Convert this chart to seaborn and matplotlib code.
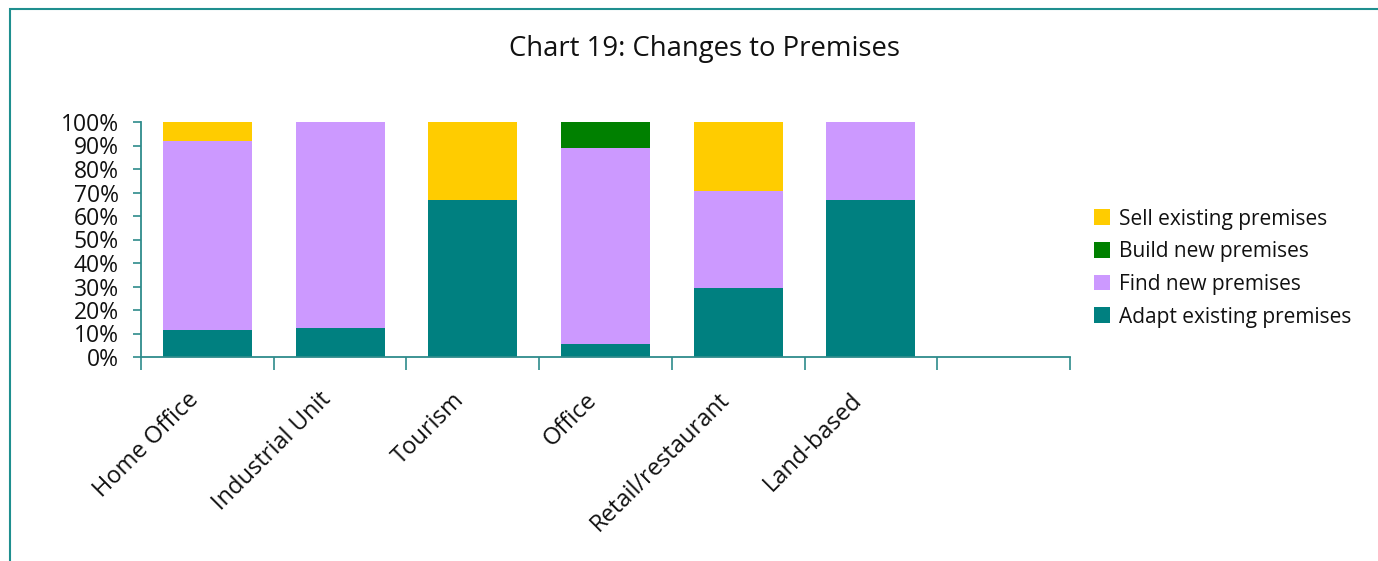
import numpy as np
import pandas as pd
import matplotlib
matplotlib.use("Agg")
import matplotlib.pyplot as plt
import matplotlib.transforms as mtransforms
from matplotlib.patches import Patch, Rectangle
import seaborn as sns

# ---- data (percent of respondents) ----
categories = ["Home Office", "Industrial Unit", "Tourism", "Office",
              "Retail/restaurant", "Land-based"]
adapt_existing = [11.3, 12.5, 66.7, 5.6, 29.4, 66.7]
find_new = [80.6, 87.5, 0.0, 83.3, 41.2, 33.3]
build_new = [0.0, 0.0, 0.0, 11.1, 0.0, 0.0]
sell_existing = [8.1, 0.0, 33.3, 0.0, 29.4, 0.0]
series_names = ["Sell existing premises", "Build new premises",
                "Find new premises", "Adapt existing premises"]
y_ticks = [0, 10, 20, 30, 40, 50, 60, 70, 80, 90, 100]

colors = {"Sell existing premises": "#FFCC00",
          "Build new premises": "#008000",
          "Find new premises": "#CC99FF",
          "Adapt existing premises": "#008080"}
axis_col = "#2E8B8B"
text_col = "#111111"

sns.set_theme(style="white")
plt.rcParams['font.family'] = ['Open Sans', 'DejaVu Sans']

df = pd.DataFrame({"category": categories,
                   "adapt": adapt_existing,
                   "find": find_new,
                   "build": build_new,
                   "sell": sell_existing})
df["c_adapt"] = df["adapt"]
df["c_find"] = df["c_adapt"] + df["find"]
df["c_build"] = df["c_find"] + df["build"]
df["c_sell"] = df["c_build"] + df["sell"]

fig = plt.figure(figsize=(13.78, 5.61), dpi=100)
ax = fig.add_axes([141/1378, 1-357/561, (1070-141)/1378, (357-122)/561])

for col, name in [("c_sell", "Sell existing premises"),
                  ("c_build", "Build new premises"),
                  ("c_find", "Find new premises"),
                  ("c_adapt", "Adapt existing premises")]:
    sns.barplot(data=df, x="category", y=col, order=categories,
                color=colors[name], saturation=1, width=0.67,
                edgecolor="none", linewidth=0, ax=ax)

ax.set_xlim(-0.5, 6.5)
ax.set_ylim(0, 100)
ax.set_xlabel("")
ax.set_ylabel("")

# y axis
ax.set_yticks(y_ticks)
ax.set_yticklabels([f"{v}%" for v in y_ticks], fontsize=16.5, color=text_col)
# x axis: ticks at slot boundaries, labels drawn separately
ax.set_xticks(np.arange(-0.5, 7, 1))
ax.set_xticklabels([])
ax.tick_params(axis="y", which="major", left=True, length=6, width=1.2,
               color=axis_col, pad=10)
ax.tick_params(axis="x", which="major", bottom=True, length=9, width=1.2,
               color=axis_col)

for s in ["top", "right"]:
    ax.spines[s].set_visible(False)
for s in ["left", "bottom"]:
    ax.spines[s].set_color(axis_col)
    ax.spines[s].set_linewidth(1.3)

# rotated category labels under each bar
trans = mtransforms.blended_transform_factory(ax.transData, ax.transAxes)
offset = mtransforms.ScaledTranslation(-21/100, 0, fig.dpi_scale_trans)
for i, lab in enumerate(categories):
    ax.text(i, -31/235, lab, transform=trans + offset, rotation=45,
            rotation_mode="anchor", ha="right", va="top",
            fontsize=17, color=text_col)

# title
fig.text(0.511, 0.912, "Chart 19: Changes to Premises", ha="center",
         va="center", fontsize=19.8, color=text_col)

# legend
handles = [Patch(facecolor=colors[n], edgecolor="none", label=n)
           for n in series_names]
leg = fig.legend(handles=handles, loc="center left",
                 bbox_to_anchor=(1094/1378, 1-268/561), frameon=False,
                 fontsize=15, handlelength=0.78, handleheight=0.78,
                 handletextpad=0.4, labelspacing=0.56, borderpad=0,
                 borderaxespad=0)
for t in leg.get_texts():
    t.set_color(text_col)

# chart-area border (top and left visible)
fig.patches.append(Rectangle((10/1378, -0.1), 1.2, 1-9/561 + 0.1,
                             transform=fig.transFigure, fill=False,
                             edgecolor="#1F8F8F", linewidth=1.5))

fig.savefig("out.png", dpi=100)
